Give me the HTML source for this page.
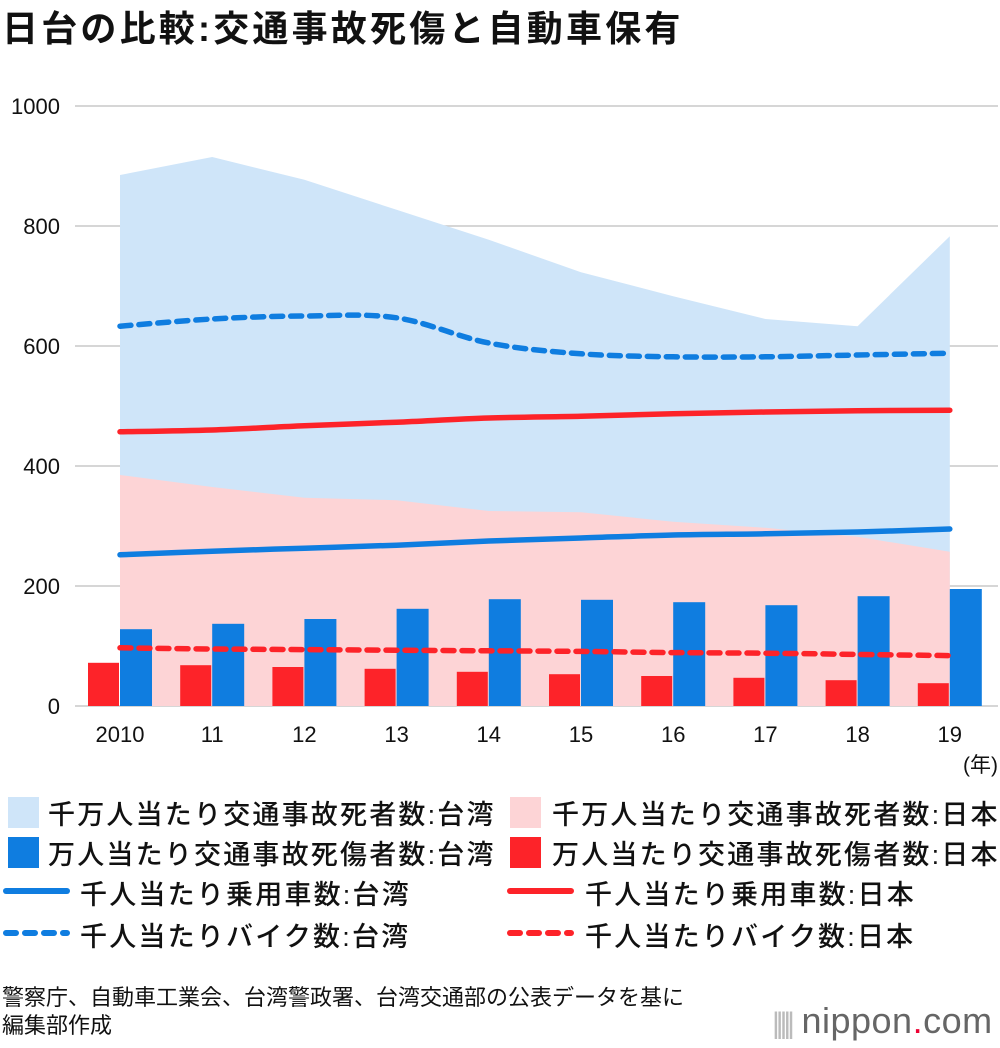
<!DOCTYPE html>
<html><head><meta charset="utf-8"><style>
body{margin:0;width:1000px;height:1048px;background:#fff;font-family:"Liberation Sans","Noto Sans CJK JP",sans-serif;color:#111;overflow:hidden;position:relative}
.t{position:absolute;white-space:nowrap}
.sw{position:absolute;width:31px;height:31px}
.lg{font-size:27px;letter-spacing:2.2px;font-weight:500}
</style></head><body>
<div class="t" style="left:2px;top:0px;font-size:36px;font-weight:bold;letter-spacing:3.2px">日台の比較:交通事故死傷と自動車保有</div>
<svg id="chart" width="1000" height="780" style="position:absolute;left:0;top:0"></svg>

<div class="sw" style="left:8px;top:797px;background:#cfe5f9"></div>
<div class="t lg" style="left:48px;top:793px">千万人当たり交通事故死者数:台湾</div>
<div class="sw" style="left:510px;top:797px;background:#fdd4d6"></div>
<div class="t lg" style="left:552px;top:793px">千万人当たり交通事故死者数:日本</div>
<div class="sw" style="left:8px;top:837px;background:#0f7de0"></div>
<div class="t lg" style="left:48px;top:833px">万人当たり交通事故死傷者数:台湾</div>
<div class="sw" style="left:510px;top:837px;background:#fd2329"></div>
<div class="t lg" style="left:552px;top:833px">万人当たり交通事故死傷者数:日本</div>
<svg width="1000" height="100" style="position:absolute;left:0;top:870px">
<line x1="6" y1="21" x2="67" y2="21" stroke="#0f7de0" stroke-width="6" stroke-linecap="round"/>
<line x1="510" y1="21" x2="571" y2="21" stroke="#fd2329" stroke-width="6" stroke-linecap="round"/>
<line x1="6" y1="63" x2="67" y2="63" stroke="#0f7de0" stroke-width="6" stroke-linecap="round" stroke-dasharray="10 9"/>
<line x1="510" y1="63" x2="571" y2="63" stroke="#fd2329" stroke-width="6" stroke-linecap="round" stroke-dasharray="10 9"/>
</svg>
<div class="t lg" style="left:80px;top:873px">千人当たり乗用車数:台湾</div>
<div class="t lg" style="left:585px;top:873px">千人当たり乗用車数:日本</div>
<div class="t lg" style="left:80px;top:915px">千人当たりバイク数:台湾</div>
<div class="t lg" style="left:585px;top:915px">千人当たりバイク数:日本</div>
<div class="t" style="left:2px;top:984px;font-size:22px;line-height:28px">警察庁、自動車工業会、台湾警政署、台湾交通部の公表データを基に<br>編集部作成</div>
<div class="t" style="left:772px;top:1000px;font-size:36px;color:#666;letter-spacing:0.5px"><span style="color:#bbb;letter-spacing:-4px;font-size:30px">|||||</span> nippon<span style="color:#e03">.</span>com</div>

<script>
const years=["2010","11","12","13","14","15","16","17","18","19"];
const twDeaths=[885,915,877,827,777,723,683,645,633,783];
const jpDeaths=[385,365,347,343,325,323,307,297,282,257];
const twCasualties=[128,137,145,162,178,177,173,168,183,195];
const jpCasualties=[72,68,65,62,57,53,50,47,43,38];
const twCars=[252,258,263,268,275,280,285,287,290,295];
const jpCars=[457,460,467,473,480,483,487,490,492,493];
const twBikes=[633,645,650,647,605,587,582,582,585,588];
const jpBikes=[97,95,94,93,92,91,89,88,86,84];
const yTicks=[0,200,400,600,800,1000];

const svg=document.getElementById('chart');
const NS='http://www.w3.org/2000/svg';
const y=v=>706-v*0.6;
const x=i=>120+i*92.2;
function mk(tag,attrs){const e=document.createElementNS(NS,tag);for(const k in attrs)e.setAttribute(k,attrs[k]);svg.appendChild(e);return e;}
function smooth(vals){let d='M'+x(0)+','+y(vals[0]);
 for(let i=0;i<vals.length-1;i++){const p0=i>0?i-1:i,p3=i+2<vals.length?i+2:i+1;
  const c1x=x(i)+(x(i+1)-x(p0))/6,c1y=y(vals[i])+(y(vals[i+1])-y(vals[p0]))/6;
  const c2x=x(i+1)-(x(p3)-x(i))/6,c2y=y(vals[i+1])-(y(vals[p3])-y(vals[i]))/6;
  d+=` C${c1x},${c1y} ${c2x},${c2y} ${x(i+1)},${y(vals[i+1])}`;}
 return d;}
function area(vals){let d='M'+x(0)+','+y(0);vals.forEach((v,i)=>d+=' L'+x(i)+','+y(v));return d+' L'+x(vals.length-1)+','+y(0)+'Z';}

yTicks.forEach(t=>{
 const l=mk('line',{x1:75,x2:998,y1:y(t),y2:y(t),stroke:'#c8c8c8','stroke-width':1.5});
 
 
 const tx=mk('text',{x:60,y:y(t)+8,'text-anchor':'end','font-size':22,'font-weight':500,fill:'#111'});
 tx.textContent=t;
 
 
});
let a=mk('path',{d:area(twDeaths),fill:'#cfe5f9'});


a=mk('path',{d:area(jpDeaths),fill:'#fdd4d6'});



years.forEach((yr,i)=>{
 let b=mk('rect',{x:x(i)-32,y:y(jpCasualties[i]),width:31,height:jpCasualties[i]*0.6,fill:'#fd2329'});
 
 
 b=mk('rect',{x:x(i),y:y(twCasualties[i]),width:32,height:twCasualties[i]*0.6,fill:'#0f7de0'});
 
 
 const tx=mk('text',{x:x(i),y:742,'text-anchor':'middle','font-size':22,'font-weight':500,fill:'#111'});
 tx.textContent=yr;
 
 
});
const lines=[[twCars,'#0f7de0',null,'line-tw-cars'],[jpCars,'#fd2329',null,'line-jp-cars'],[twBikes,'#0f7de0','11 8','line-tw-bikes'],[jpBikes,'#fd2329','11 8','line-jp-bikes']];
lines.forEach(([v,c,da,n])=>{
 const p=mk('path',{d:smooth(v),fill:'none',stroke:c,'stroke-width':5.5,'stroke-linecap':'round'});
 if(da)p.setAttribute('stroke-dasharray',da);
 
 
});
const u=mk('text',{x:998,y:772,'text-anchor':'end','font-size':21,fill:'#111'});
u.textContent='(年)';


</script>
</body></html>
